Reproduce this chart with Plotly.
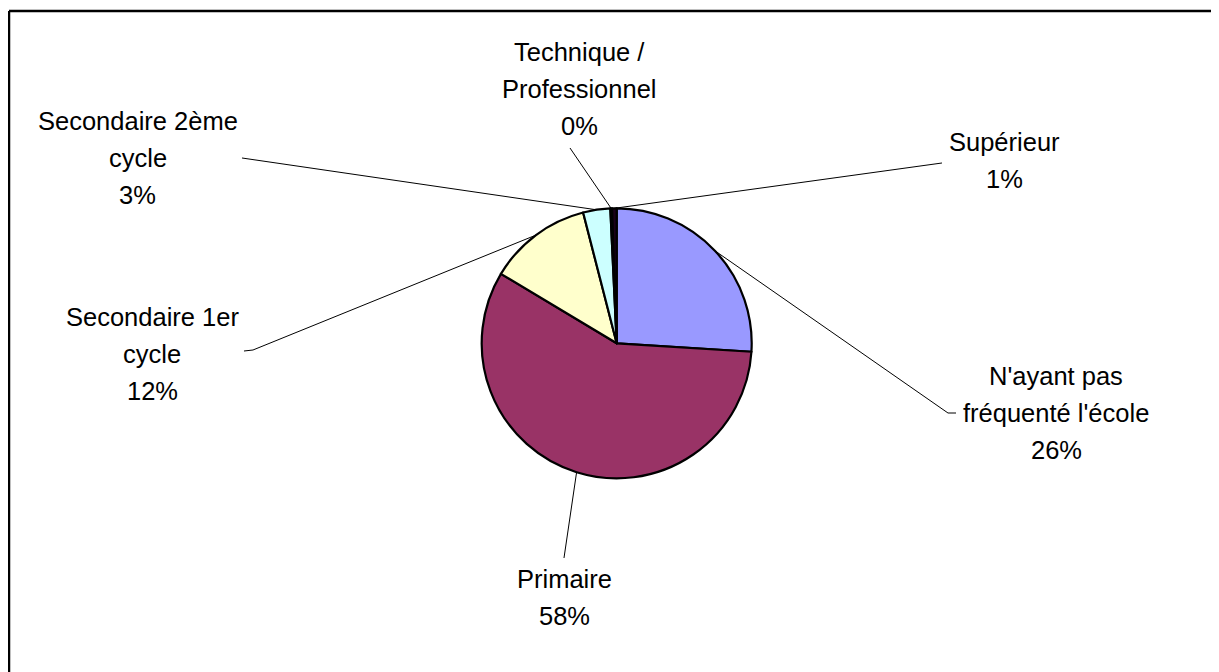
import math
import plotly.graph_objects as go

# ---------------- data ----------------
categories = ["N'ayant pas fréquenté l'école", "Primaire", "Secondaire 1er cycle",
              "Secondaire 2ème cycle", "Technique / Professionnel", "Supérieur"]
values = [26.0, 57.6, 12.4, 3.25, 0.2, 0.55]
colors = ["#9999FF", "#993366", "#FFFFCC", "#CCFFFF", "#660066", "#1a001a"]

# ---------------- layout constants ----------------
W, H = 1219, 672
OFF = 8  # page body margin: figure pixel = page pixel - OFF
CX, CY, R = 616.7, 343.3, 135.0
FONT = dict(family="Liberation Sans, Arial, sans-serif", size=25.5, color="black")
LINE_STEP = 37

# label text lines and placement (page px: x center, y center of first line), plus leader end points
label_layout = {
    "N'ayant pas fréquenté l'école": dict(lines=["N'ayant pas", "fréquenté l'école"], x=1056, y=376,
                                          path=[(948, 413), (956, 413)]),
    "Primaire": dict(lines=["Primaire"], x=564, y=579, path=[(564, 558)]),
    "Secondaire 1er cycle": dict(lines=["Secondaire 1er", "cycle"], x=152, y=317,
                                 path=[(253, 350), (244, 351)]),
    "Secondaire 2ème cycle": dict(lines=["Secondaire 2ème", "cycle"], x=137.5, y=121,
                                  path=[(242, 158)]),
    "Technique / Professionnel": dict(lines=["Technique /", "Professionnel"], x=579, y=52,
                                      path=[(570, 148)]),
    "Supérieur": dict(lines=["Supérieur"], x=1004, y=142, path=[(942, 163)]),
}


def px(x):
    return (x - OFF) / W


def py(y):
    return 1 - (y - OFF) / H


total = sum(values)

fig = go.Figure()
fig.add_trace(go.Pie(
    labels=categories,
    values=values,
    sort=False,
    direction="clockwise",
    rotation=0,
    marker=dict(colors=colors, line=dict(color="black", width=2.2)),
    textinfo="none",
    hoverinfo="label+percent",
    showlegend=False,
    domain=dict(x=[px(CX - R), px(CX + R)], y=[py(CY + R), py(CY - R)]),
))

annotations = []
shapes = []
cum = 0.0
for cat, v in zip(categories, values):
    mid = (cum + v / 2) / total * 2 * math.pi
    cum += v
    rim = (CX + R * math.sin(mid), CY - R * math.cos(mid))
    lay = label_layout[cat]
    pct = f"{round(v / total * 100)}%"
    lines = lay["lines"] + [pct]
    for i, t in enumerate(lines):
        annotations.append(dict(
            x=px(lay["x"]), y=py(lay["y"] + i * LINE_STEP), xref="paper", yref="paper",
            text=t, showarrow=False, xanchor="center", yanchor="middle", font=FONT))
    pts = [rim] + lay["path"]
    d = "M " + " L ".join(f"{px(a):.5f},{py(b):.5f}" for a, b in pts)
    shapes.append(dict(type="path", path=d, xref="paper", yref="paper",
                       line=dict(color="black", width=1)))

# chart area frame: only its top and left edges fall inside the picture
shapes.append(dict(type="line", xref="paper", yref="paper",
                   x0=px(9), y0=py(11), x1=px(W + 40), y1=py(11),
                   line=dict(color="black", width=2.5)))
shapes.append(dict(type="line", xref="paper", yref="paper",
                   x0=px(9), y0=py(11), x1=px(9), y1=py(H + 40),
                   line=dict(color="black", width=2.5)))

fig.update_layout(
    width=W, height=H,
    margin=dict(l=0, r=0, t=0, b=0),
    paper_bgcolor="white", plot_bgcolor="white",
    annotations=annotations, shapes=shapes,
)

fig.write_html("out.html")
